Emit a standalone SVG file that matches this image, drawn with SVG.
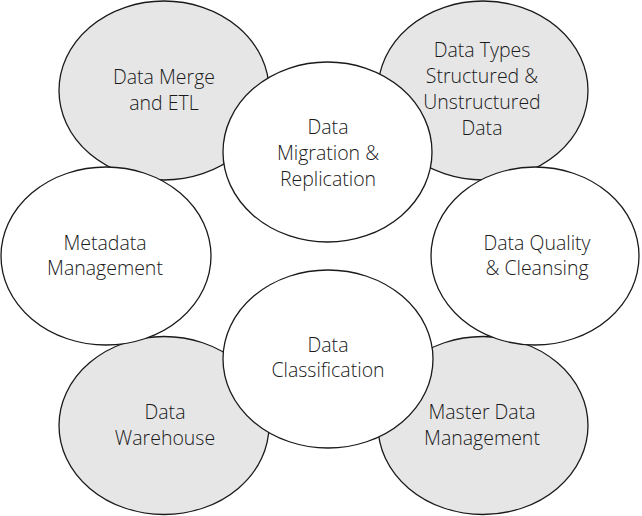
<svg xmlns="http://www.w3.org/2000/svg" width="642" height="516" viewBox="0 0 642 516">
<style>
.n ellipse{stroke:#1a1a1a;stroke-width:1.3}
.g ellipse{fill:#e6e6e7}
.w ellipse{fill:#ffffff}
text{font-family:"Open Sans","Noto Sans","Liberation Sans",sans-serif;font-size:19.5px;font-weight:300;fill:#1a1a1a;text-anchor:middle}
</style>
<rect width="642" height="516" fill="#fff"/>
<g id="connectors"></g>
<g id="merge" class="n g"><ellipse cx="164" cy="90.5" rx="105" ry="89.5"/><text x="164" y="84">Data Merge</text><text x="164" y="110">and ETL</text></g>
<g id="types" class="n g"><ellipse cx="483" cy="90.5" rx="105" ry="89.5"/><text x="482" y="57">Data Types</text><text x="482" y="83">Structured &amp;</text><text x="482" y="109">Unstructured</text><text x="482" y="135">Data</text></g>
<g id="warehouse" class="n g"><ellipse cx="164" cy="425.5" rx="105" ry="89"/><text x="165" y="419">Data</text><text x="165" y="445">Warehouse</text></g>
<g id="master" class="n g"><ellipse cx="483" cy="425.5" rx="105" ry="89"/><text x="482" y="419">Master Data</text><text x="482" y="445">Management</text></g>
<g id="migration" class="n w"><ellipse cx="327.5" cy="152" rx="104.5" ry="90"/><text x="328" y="134">Data</text><text x="328" y="160">Migration &amp;</text><text x="328" y="186">Replication</text></g>
<g id="metadata" class="n w"><ellipse cx="106" cy="256" rx="105" ry="89"/><text x="105" y="250">Metadata</text><text x="105" y="275">Management</text></g>
<g id="quality" class="n w"><ellipse cx="535" cy="256" rx="104" ry="89"/><text x="537" y="250">Data Quality</text><text x="537" y="275">&amp; Cleansing</text></g>
<g id="classification" class="n w"><ellipse cx="328" cy="359" rx="105" ry="89"/><text x="328" y="352">Data</text><text x="328" y="377">Classification</text></g>
</svg>
